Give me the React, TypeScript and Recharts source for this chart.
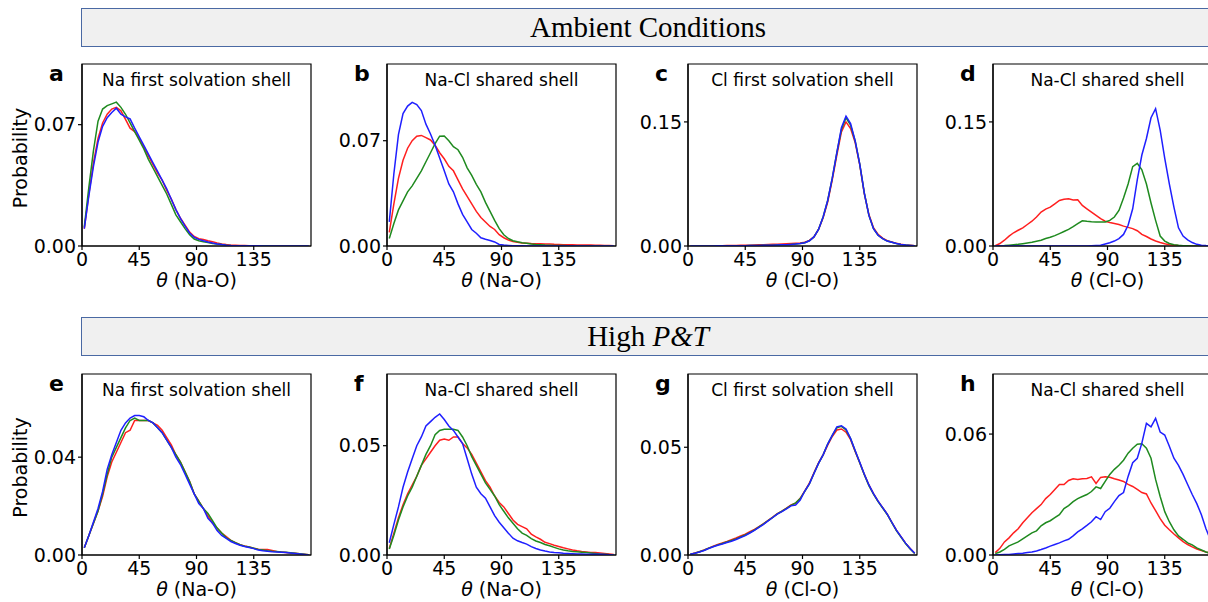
import React from 'react';
import { Line, LineChart, ReferenceArea, XAxis, YAxis } from 'recharts';

// bin centres (deg), 3.6 deg bins
const THETA = [
  1.8, 5.4, 9, 12.6, 16.2, 19.8, 23.4, 27, 30.6, 34.2, 37.8, 41.4, 45, 48.6, 52.2, 55.8, 59.4, 63, 66.6, 70.2,
  73.8, 77.4, 81, 84.6, 88.2, 91.8, 95.4, 99, 102.6, 106.2, 109.8, 113.4, 117, 120.6, 124.2, 127.8, 131.4, 135,
  138.6, 142.2, 145.8, 149.4, 153, 156.6, 160.2, 163.8, 167.4, 171, 174.6, 178.2,
];
const X_TICKS = [0, 45, 90, 135];

// a: Na first solvation shell (ambient)
const A_RED = [.010, .030, .048, .062, .071, .076, .079, .080, .078, .073, .068, .066, .062, .057, .052, .047, .042, .038, .032, .027, .021, .016, .012, .008, .0055, .0042, .0038, .003, .0025, .0018, .0012, .0008, .0005, .0004, .0003, .0003, .0002, .0002, .0002, .0001, .0001, .0001, .0001, .0001, .0001, 0, 0, 0, 0, 0];
const A_GREEN = [.011, .034, .055, .072, .079, .081, .082, .083, .080, .076, .071, .066, .061, .056, .050, .045, .040, .035, .030, .024, .018, .014, .010, .0065, .004, .003, .0025, .002, .0015, .0011, .0008, .0005, .0003, .0002, .0002, .0002, .0001, .0001, .0001, .0001, .0001, 0, 0, 0, 0, 0, 0, 0, 0, 0];
const A_BLUE = [.010, .029, .046, .060, .069, .074, .077, .0795, .076, .0745, .0733, .068, .063, .058, .053, .048, .043, .038, .033, .027, .021, .016, .0115, .0075, .005, .0038, .003, .0023, .0017, .0012, .0008, .0005, .0003, .0002, .0001, .0001, .0001, .0001, .0001, 0, 0, 0, 0, 0, 0, 0, 0, 0, 0, 0];

// b: Na-Cl shared shell, Na-O (ambient)
const B_RED = [.009, .028, .045, .057, .065, .070, .073, .0735, .072, .0705, .067, .062, .058, .053, .050, .044, .038, .033, .028, .023, .019, .016, .013, .011, .0075, .0055, .004, .003, .0025, .002, .0018, .0016, .0015, .0015, .0014, .0013, .0011, .001, .0009, .0008, .0008, .0007, .0007, .0006, .0006, .0005, .0005, .0004, .0003, .0002];
const B_GREEN = [.005, .015, .024, .030, .036, .040, .045, .050, .056, .062, .068, .073, .0732, .070, .066, .064, .059, .052, .047, .041, .036, .029, .023, .017, .0115, .0075, .005, .0035, .0028, .0022, .0018, .0013, .001, .0008, .0006, .0005, .0004, .0003, .0003, .0002, .0002, .0002, .0001, .0001, .0001, .0001, 0, 0, 0, 0];
const B_BLUE = [.016, .048, .074, .088, .093, .0955, .094, .090, .081, .0745, .067, .0585, .050, .0413, .036, .028, .021, .016, .011, .0085, .0055, .0045, .0037, .0027, .001, .0006, .0004, .0002, .0001, .0001, 0, 0, 0, 0, 0, 0, 0, 0, 0, 0, 0, 0, 0, 0, 0, 0, 0, 0, 0, 0];

// c: Cl first solvation shell (ambient)
const C_RED = [0, .0001, .0001, .0002, .0002, .0003, .0003, .0004, .0005, .0006, .0007, .0008, .0009, .001, .0012, .0014, .0016, .0018, .002, .0022, .0025, .0027, .003, .0033, .0037, .0045, .0068, .011, .020, .034, .053, .080, .110, .138, .150, .142, .125, .098, .063, .038, .022, .014, .0095, .0065, .0048, .0032, .002, .0013, .0008, .0004];
const C_GREEN = [0, 0, 0, .0001, .0001, .0001, .0002, .0002, .0002, .0003, .0003, .0004, .0004, .0005, .0006, .0007, .0008, .0009, .001, .0012, .0014, .0016, .0019, .0023, .003, .004, .0063, .011, .020, .035, .055, .082, .113, .141, .155, .146, .127, .099, .064, .037, .021, .013, .009, .006, .0045, .003, .0019, .0012, .0007, .0003];
const C_BLUE = [0, 0, 0, .0001, .0001, .0001, .0002, .0002, .0002, .0003, .0003, .0004, .0004, .0005, .0006, .0007, .0008, .0009, .001, .0012, .0014, .0016, .0019, .0023, .003, .004, .0063, .011, .020, .035, .055, .082, .113, .143, .157, .148, .127, .099, .064, .037, .021, .013, .009, .006, .0045, .003, .0019, .0012, .0007, .0003];

// d: Na-Cl shared shell, Cl-O (ambient)
const D_RED = [.0005, .003, .007, .012, .016, .019, .022, .026, .030, .035, .041, .0445, .047, .051, .055, .0565, .057, .0555, .056, .049, .045, .041, .037, .033, .030, .0285, .0272, .026, .024, .0225, .021, .0185, .014, .0115, .0085, .006, .0042, .0028, .0016, .001, .0005, .0003, 0, 0, 0, 0, 0, 0, 0, 0];
const D_GREEN = [0, .0002, .0005, .001, .0015, .002, .0028, .0036, .0045, .0058, .007, .009, .0105, .0125, .015, .0175, .020, .0234, .027, .0305, .0298, .0293, .029, .029, .029, .031, .035, .043, .058, .075, .096, .100, .092, .075, .052, .031, .012, .006, .003, .0015, .0008, .0004, .0002, 0, 0, 0, 0, 0, 0, 0];
const D_BLUE = [0, 0, 0, 0, 0, 0, 0, 0, 0, 0, 0, 0, 0, 0, 0, 0, 0, 0, 0, 0, .0001, .0003, .0006, .001, .0025, .004, .006, .009, .014, .025, .045, .080, .110, .130, .155, .166, .140, .106, .075, .047, .022, .012, .0075, .0042, .002, .001, .0005, .0002, 0, 0];

// e: Na first solvation shell (high P&T)
const E_RED = [.003, .008, .013, .018, .024, .032, .038, .042, .046, .050, .051, .055, .055, .055, .055, .054, .053, .051, .048, .045, .041, .038, .034, .030, .025, .022, .019, .016, .013, .011, .009, .0075, .006, .005, .0042, .0037, .0033, .0028, .0024, .0022, .0022, .0018, .0014, .0012, .001, .0008, .0007, .0005, .0003, .0001];
const E_GREEN = [.003, .008, .013, .018, .025, .033, .040, .044, .048, .052, .055, .056, .055, .055, .055, .054, .052, .050, .047, .044, .041, .038, .034, .030, .025, .022, .019, .017, .014, .011, .009, .007, .006, .005, .0042, .0036, .0033, .0028, .0023, .002, .0017, .0015, .0014, .0012, .0011, .0009, .0007, .0005, .0003, .0001];
const E_BLUE = [.003, .008, .0135, .019, .026, .035, .041, .046, .051, .054, .056, .057, .057, .0565, .055, .054, .052, .050, .047, .044, .040, .037, .033, .029, .025, .021, .019, .015, .013, .010, .008, .0068, .0055, .0047, .004, .0035, .0031, .0026, .002, .0017, .0015, .0013, .0012, .0011, .001, .0008, .0006, .0004, .0002, 0];

// f: Na-Cl shared shell, Na-O (high P&T)
const F_RED = [.003, .010, .017, .023, .028, .032, .036, .041, .044, .047, .050, .0525, .053, .0525, .054, .054, .051, .049, .046, .042, .038, .034, .031, .027, .024, .022, .019, .016, .014, .013, .012, .0095, .0083, .0072, .0058, .0052, .0045, .0039, .0033, .0028, .0023, .0019, .0016, .0014, .0012, .0011, .0009, .0007, .0005, .0002];
const F_GREEN = [.0027, .009, .016, .022, .027, .031, .036, .041, .046, .050, .055, .057, .0575, .0575, .0575, .057, .054, .050, .045, .041, .037, .033, .030, .027, .023, .020, .017, .0145, .012, .010, .009, .0075, .0064, .0057, .0048, .0042, .0035, .0028, .0023, .0019, .0016, .0015, .0013, .0011, .0009, .0007, .0005, .0004, .0002, .0001];
const F_BLUE = [.0056, .014, .022, .031, .038, .044, .050, .054, .059, .061, .063, .0645, .062, .059, .057, .054, .051, .044, .037, .031, .028, .026, .022, .018, .015, .0125, .010, .0077, .0065, .0057, .005, .0038, .003, .0023, .0018, .0014, .0011, .001, .0008, .0007, .0006, .0005, .0005, .0004, .0004, .0003, .0003, .0002, .0001, 0];

// g: Cl first solvation shell (high P&T)
const G_RED = [.0003, .0009, .0015, .0023, .0032, .0041, .0049, .0056, .0063, .0071, .0079, .0088, .0097, .0108, .0119, .0132, .0146, .0161, .0176, .0192, .0204, .0218, .0232, .024, .0263, .0298, .0333, .0382, .0428, .0465, .051, .055, .058, .0585, .057, .0535, .048, .0428, .0374, .0325, .0285, .025, .022, .019, .0152, .0115, .0085, .0055, .003, .0008];
const G_GREEN = [.0003, .0008, .0015, .0022, .0031, .0039, .0047, .0053, .006, .0067, .0075, .0084, .0093, .0104, .0116, .013, .0144, .016, .0175, .0191, .0203, .0216, .023, .0242, .0262, .0295, .033, .0378, .0425, .0465, .0515, .0555, .059, .0597, .058, .054, .0483, .0428, .0372, .0322, .0282, .0248, .0218, .0188, .015, .0113, .0083, .0053, .0028, .0007];
const G_BLUE = [.0003, .0008, .0014, .0021, .003, .0038, .0045, .0051, .0058, .0064, .0072, .0081, .009, .0102, .0114, .0128, .0142, .0158, .0174, .019, .0201, .0214, .0228, .0232, .0255, .0297, .033, .0378, .0425, .0465, .0515, .0555, .0595, .060, .0585, .054, .0485, .043, .0375, .0325, .0285, .025, .022, .019, .0152, .0115, .0085, .0055, .003, .0008];

// h: Na-Cl shared shell, Cl-O (high P&T)
const H_RED = [.0012, .0033, .0065, .0085, .011, .013, .016, .0185, .021, .023, .025, .028, .030, .0325, .035, .035, .037, .0378, .0375, .0378, .038, .0388, .0355, .0385, .0388, .0386, .0378, .0372, .0365, .035, .034, .0325, .031, .0303, .0258, .022, .018, .0148, .0125, .0104, .0085, .0066, .0052, .004, .003, .0022, .0015, .001, .0005, .0002];
const H_GREEN = [.0007, .0015, .0028, .0045, .0055, .0065, .008, .0095, .011, .012, .0145, .016, .017, .0185, .020, .023, .0245, .0265, .028, .029, .030, .0315, .0338, .033, .0365, .040, .0425, .0445, .047, .0505, .053, .055, .0552, .053, .048, .0375, .029, .0215, .0165, .0125, .0095, .0078, .006, .005, .0035, .0025, .0015, .0008, .0005, .0002];
const H_BLUE = [0, .0001, .0002, .0003, .0005, .0007, .0009, .0012, .0015, .002, .0027, .0035, .0044, .0052, .006, .007, .0078, .0095, .0115, .013, .0147, .0165, .019, .0176, .0215, .0232, .0265, .0295, .031, .039, .0458, .048, .0555, .0653, .0636, .0678, .061, .0595, .054, .048, .0445, .040, .035, .030, .0255, .020, .013, .0075, .0035, .001];

const RED = '#ff1f1f';
const GREEN = '#1f8a1f';
const BLUE = '#1f1fff';
const SANS = '"DejaVu Sans", sans-serif';
const PLOT_W = 229;

type PanelProps = {
  letter: string;
  title: string;
  pair: string;
  left: number;
  top: number;
  plotH: number;
  yMax: number;
  yTick: number;
  red: number[];
  green: number[];
  blue: number[];
  yLabel?: boolean;
};

const PANELS: PanelProps[] = [
  { letter: 'a', title: 'Na first solvation shell', pair: 'Na-O', left: 82, top: 64, plotH: 182, yMax: 0.105, yTick: 0.07, red: A_RED, green: A_GREEN, blue: A_BLUE, yLabel: true },
  { letter: 'b', title: 'Na-Cl shared shell', pair: 'Na-O', left: 387, top: 64, plotH: 182, yMax: 0.121, yTick: 0.07, red: B_RED, green: B_GREEN, blue: B_BLUE },
  { letter: 'c', title: 'Cl first solvation shell', pair: 'Cl-O', left: 688, top: 64, plotH: 182, yMax: 0.22, yTick: 0.15, red: C_RED, green: C_GREEN, blue: C_BLUE },
  { letter: 'd', title: 'Na-Cl shared shell', pair: 'Cl-O', left: 993, top: 64, plotH: 182, yMax: 0.22, yTick: 0.15, red: D_RED, green: D_GREEN, blue: D_BLUE },
  { letter: 'e', title: 'Na first solvation shell', pair: 'Na-O', left: 82, top: 374, plotH: 181, yMax: 0.074, yTick: 0.04, red: E_RED, green: E_GREEN, blue: E_BLUE, yLabel: true },
  { letter: 'f', title: 'Na-Cl shared shell', pair: 'Na-O', left: 387, top: 374, plotH: 181, yMax: 0.0828, yTick: 0.05, red: F_RED, green: F_GREEN, blue: F_BLUE },
  { letter: 'g', title: 'Cl first solvation shell', pair: 'Cl-O', left: 688, top: 374, plotH: 181, yMax: 0.084, yTick: 0.05, red: G_RED, green: G_GREEN, blue: G_BLUE },
  { letter: 'h', title: 'Na-Cl shared shell', pair: 'Cl-O', left: 993, top: 374, plotH: 181, yMax: 0.0898, yTick: 0.06, red: H_RED, green: H_GREEN, blue: H_BLUE },
];

const tickStyle = { fill: '#000', fontSize: 19, fontFamily: SANS };

function Panel(p: PanelProps) {
  const rows = THETA.map((t, i) => ({ t, r: p.red[i], g: p.green[i], b: p.blue[i] }));
  const W = 80 + PLOT_W + 10;
  const H = 10 + p.plotH + 50;
  const cx = 80 + PLOT_W / 2;

  return (
    <div style={{ position: 'absolute', left: p.left - 80, top: p.top - 10, width: W, height: H }}>
      <LineChart width={W} height={H} data={rows} margin={{ top: 10, right: 10, bottom: 0, left: 0 }}>
        <XAxis
          dataKey="t"
          type="number"
          domain={[0, 180]}
          ticks={X_TICKS}
          interval={0}
          height={50}
          tick={tickStyle}
          tickSize={4}
          tickMargin={3}
          axisLine={{ stroke: '#000', strokeWidth: 1.2 }}
          tickLine={{ stroke: '#000', strokeWidth: 1.2 }}
          allowDataOverflow
        />
        <YAxis
          type="number"
          domain={[0, p.yMax]}
          ticks={[0, p.yTick]}
          interval={0}
          width={80}
          tick={tickStyle}
          tickSize={4}
          tickMargin={2}
          tickFormatter={(v: number) => v.toFixed(2)}
          axisLine={{ stroke: '#000', strokeWidth: 1.2 }}
          tickLine={{ stroke: '#000', strokeWidth: 1.2 }}
          allowDataOverflow
        />
        <ReferenceArea x1={0} x2={180} y1={0} y2={p.yMax} fill="#fff" fillOpacity={0} stroke="#000" strokeWidth={1.2} ifOverflow="visible" />
        <Line type="linear" dataKey="r" stroke={RED} strokeWidth={1.5} dot={false} isAnimationActive={false} />
        <Line type="linear" dataKey="g" stroke={GREEN} strokeWidth={1.5} dot={false} isAnimationActive={false} />
        <Line type="linear" dataKey="b" stroke={BLUE} strokeWidth={1.5} dot={false} isAnimationActive={false} />
      </LineChart>
      <svg width={W} height={H} style={{ position: 'absolute', left: 0, top: 0, pointerEvents: 'none', fontFamily: SANS }}>
        <text x={47} y={27} fontSize={22} fontWeight="bold" fill="#000">{p.letter}</text>
        <text x={cx} y={32} fontSize={17} textAnchor="middle" fill="#000">{p.title}</text>
        <text x={cx} y={10 + p.plotH + 41} fontSize={19} textAnchor="middle" fill="#000">
          <tspan fontStyle="italic">θ</tspan> ({p.pair})
        </text>
        {p.yLabel && (
          <text
            x={25}
            y={10 + p.plotH / 2 + 3}
            fontSize={19}
            textAnchor="middle"
            fill="#000"
            transform={`rotate(-90 25 ${10 + p.plotH / 2 + 3})`}
          >
            Probability
          </text>
        )}
      </svg>
    </div>
  );
}

const headerStyle: React.CSSProperties = {
  position: 'absolute',
  left: 81,
  width: 1134,
  height: 39,
  boxSizing: 'border-box',
  border: '1.5px solid #4a69a3',
  background: '#f0f0f0',
  display: 'flex',
  alignItems: 'center',
  justifyContent: 'center',
  fontFamily: '"Liberation Serif", "Times New Roman", serif',
  fontSize: 29,
  color: '#000',
};

export default function App() {
  return (
    <div style={{ position: 'absolute', left: 0, top: 0, width: 1208, height: 602, overflow: 'hidden', background: '#fff' }}>
      <div style={{ ...headerStyle, top: 8 }}>Ambient Conditions</div>
      <div style={{ ...headerStyle, top: 317 }}>
        <span>
          High <i>P&amp;T</i>
        </span>
      </div>
      {PANELS.map((p) => (
        <Panel key={p.letter} {...p} />
      ))}
    </div>
  );
}
